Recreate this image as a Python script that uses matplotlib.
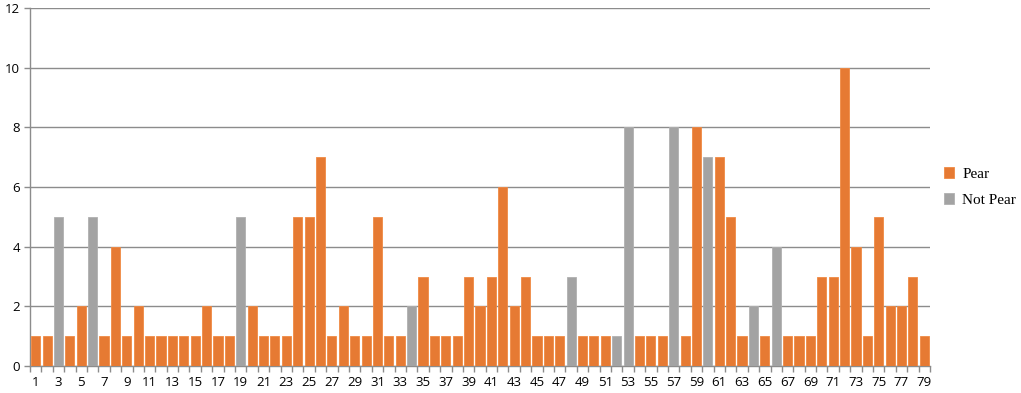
import numpy as np
import matplotlib.pyplot as plt

# category numbers and counts
categories = list(range(1, 80))
pear = [1, 1, 0, 1, 2, 0, 1, 4, 1, 2,
        1, 1, 1, 1, 1, 2, 1, 1, 0, 2,
        1, 1, 1, 5, 5, 7, 1, 2, 1, 1,
        5, 1, 1, 0, 3, 1, 1, 1, 3, 2,
        3, 6, 2, 3, 1, 1, 1, 0, 1, 1,
        1, 0, 0, 1, 1, 1, 0, 1, 8, 0,
        7, 5, 1, 0, 1, 0, 1, 1, 1, 3,
        3, 10, 4, 1, 5, 2, 2, 3, 1]
not_pear = [0, 0, 5, 0, 0, 5, 0, 0, 0, 0,
            0, 0, 0, 0, 0, 0, 0, 0, 5, 0,
            0, 0, 0, 0, 0, 0, 0, 0, 0, 0,
            0, 0, 0, 2, 0, 0, 0, 0, 0, 0,
            0, 0, 0, 0, 0, 0, 0, 3, 0, 0,
            0, 1, 8, 0, 0, 0, 8, 0, 0, 7,
            0, 0, 0, 2, 0, 4, 0, 0, 0, 0,
            0, 0, 0, 0, 0, 0, 0, 0, 0]
series_names = ["Pear", "Not Pear"]

orange = "#E67A33"
gray = "#A3A3A3"

fig = plt.figure(figsize=(10.21, 3.93), dpi=100)
ax = fig.add_axes([30 / 1021, 1 - 366 / 393, 900 / 1021, 358 / 393])

x = np.array(categories)
ax.bar(x, pear, width=0.8, color=orange, edgecolor="#F08A44", linewidth=0.6,
       label=series_names[0], zorder=3)
ax.bar(x, not_pear, width=0.8, color=gray, edgecolor="#B0B0B0", linewidth=0.6,
       label=series_names[1], zorder=3)

ax.set_xlim(0.5, 79.5)
ax.set_ylim(0, 12)
ax.set_yticks(range(0, 13, 2))
ax.yaxis.grid(True, color="#8C8C8C", linewidth=1.0, zorder=0)

# labels on odd categories, tick marks on category boundaries
ax.set_xticks(x[::2])
ax.set_xticklabels([str(c) for c in categories[::2]])
ax.set_xticks(np.arange(0.5, 80, 1), minor=True)
ax.tick_params(axis="x", which="major", length=0, pad=7)
ax.tick_params(axis="x", which="minor", length=4, color="#8C8C8C", width=1)
ax.tick_params(axis="y", length=4, color="#8C8C8C", width=1, pad=3)
ax.tick_params(labelsize=9.5)
for lab in ax.get_xticklabels() + ax.get_yticklabels():
    lab.set_fontfamily("Open Sans")

for side in ["top", "right"]:
    ax.spines[side].set_visible(False)
ax.spines["left"].set_color("#8C8C8C")
ax.spines["bottom"].set_color("#8C8C8C")
ax.spines["left"].set_linewidth(1)
ax.spines["bottom"].set_linewidth(1)

ax.legend(loc="center left", bbox_to_anchor=(1.0, 0.5), frameon=False,
          prop={"family": "Liberation Serif", "size": 11},
          handlelength=0.7, handleheight=0.7, handletextpad=0.5,
          labelspacing=0.8)

fig.savefig("out.png", dpi=100)
